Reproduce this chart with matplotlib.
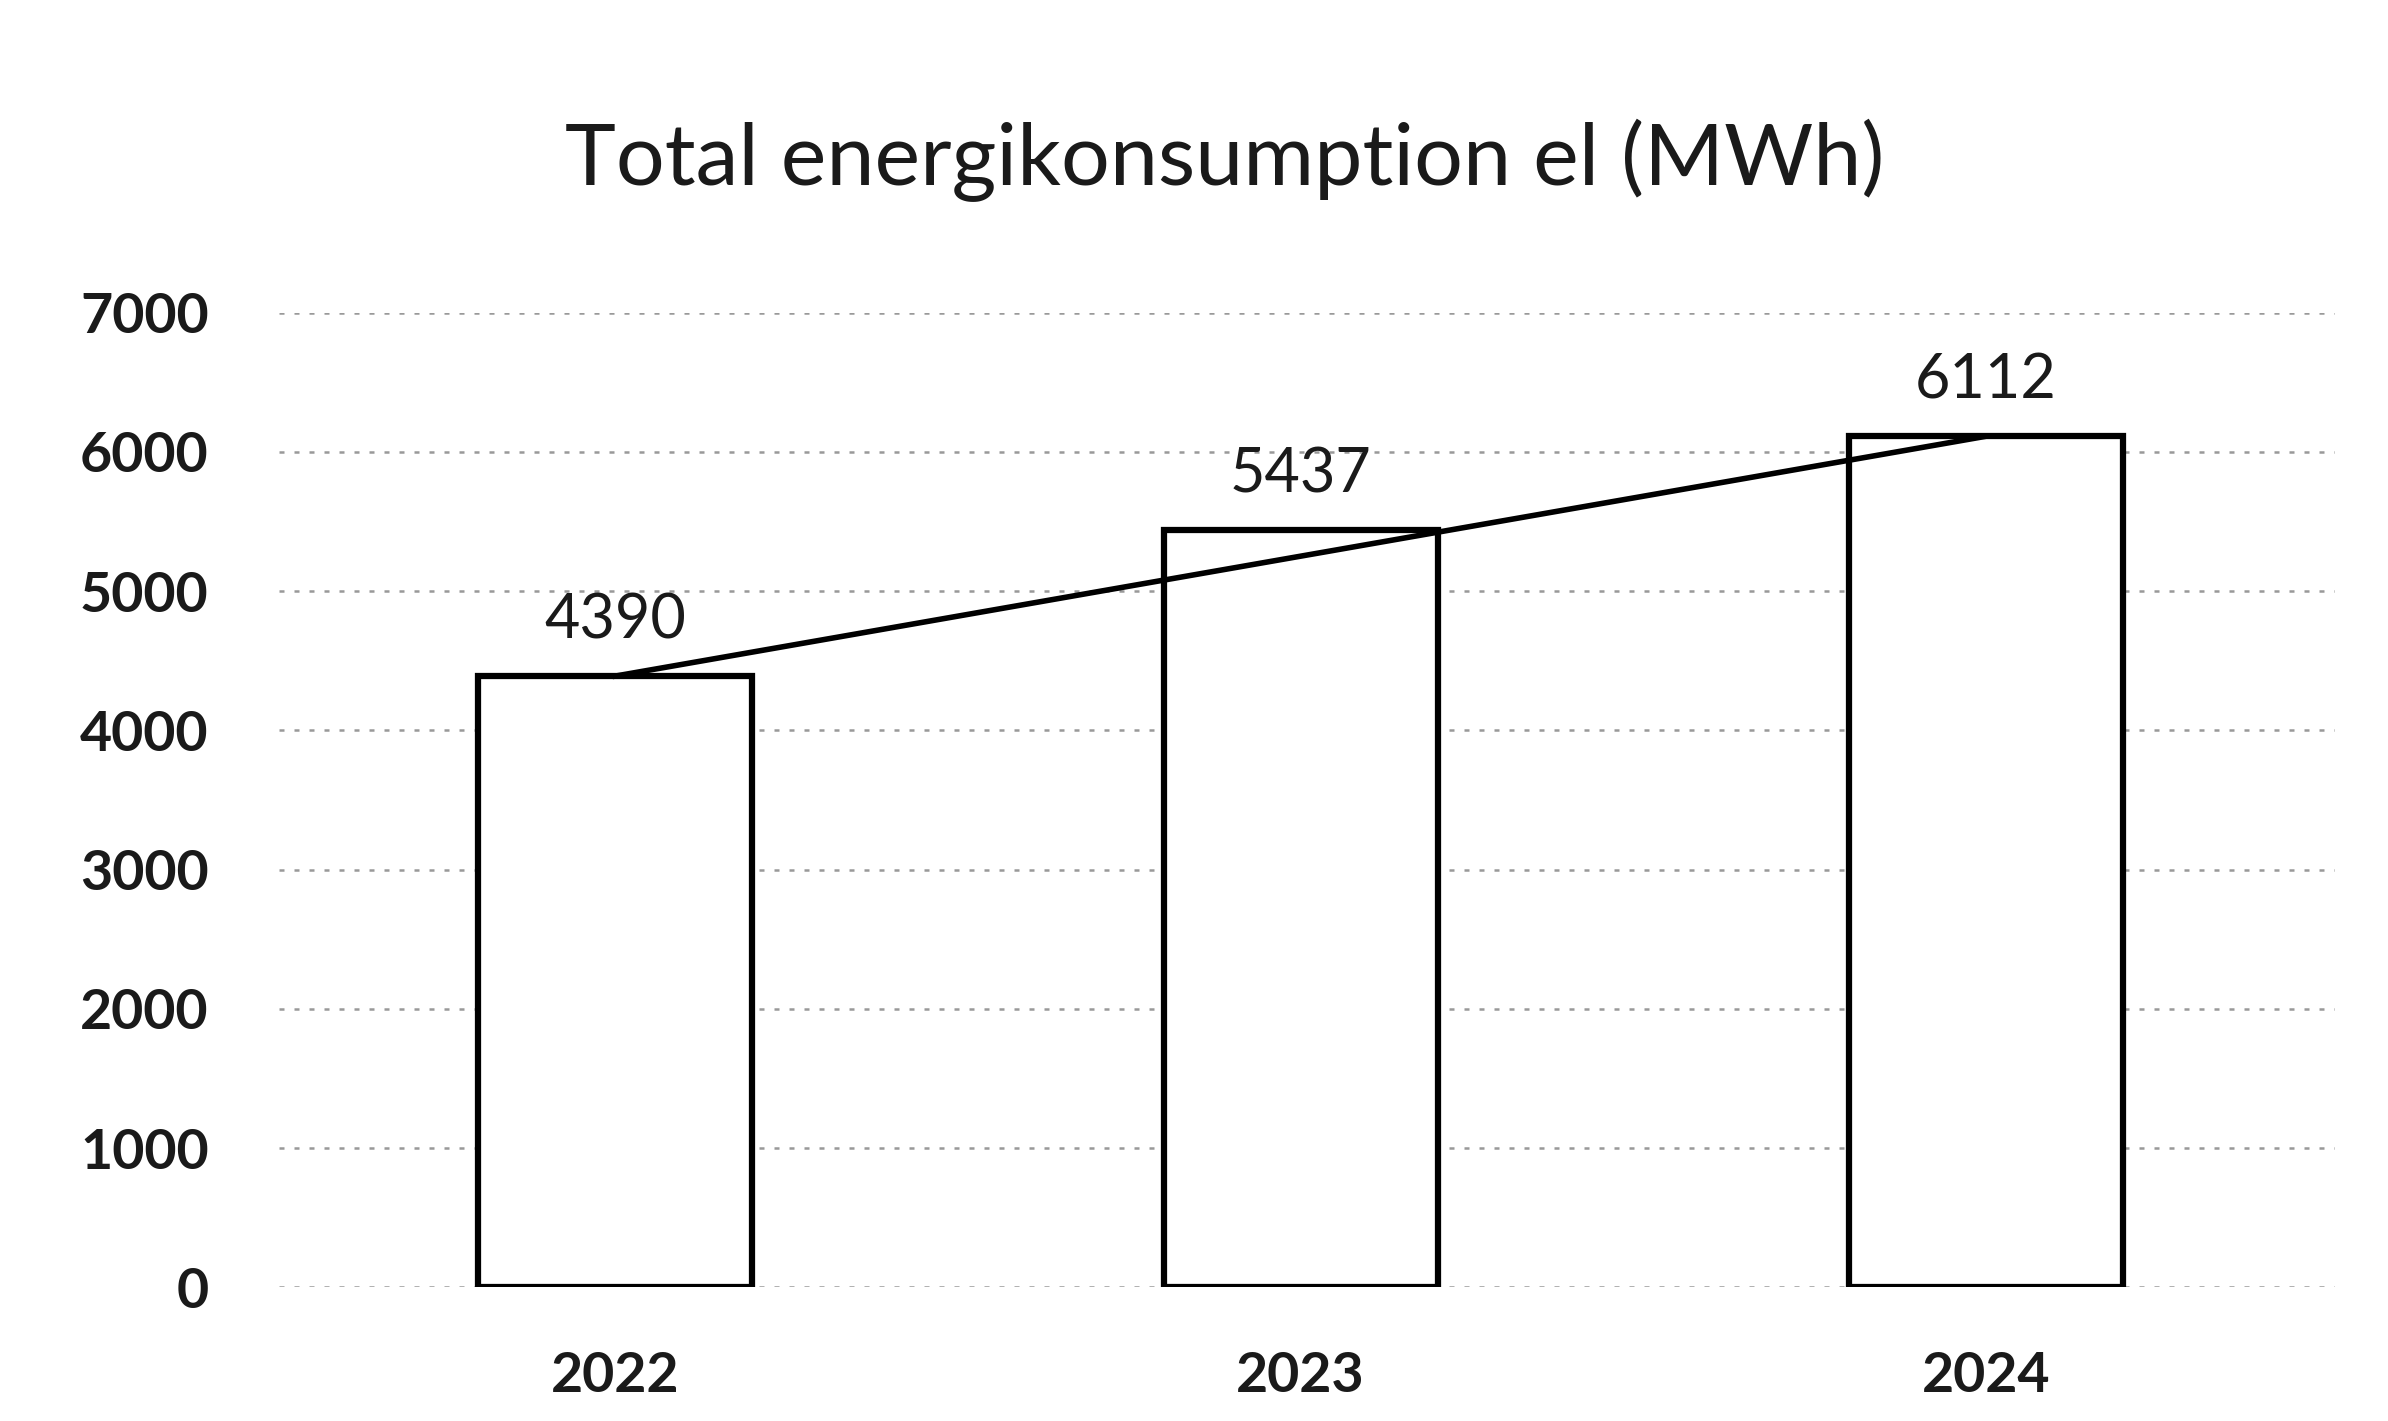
import matplotlib
matplotlib.use("Agg")
import matplotlib.pyplot as plt
import numpy as np

years = ["2022", "2023", "2024"]
consumption = [4390, 5437, 6112]
y_ticks = [0, 1000, 2000, 3000, 4000, 5000, 6000, 7000]
title = "Total energikonsumption el (MWh)"

plt.rcParams['font.family'] = ['Lato', 'DejaVu Sans']

fig = plt.figure(figsize=(23.88, 14.21), dpi=100)
ax = fig.add_axes([0.117, 0.094, 0.861, 0.686])

x = np.arange(len(years))
ax.bar(x, consumption, width=0.4, color="white", edgecolor="black", linewidth=4.5, zorder=2)

# straight connecting line from first to last value
ax.plot([x[0], x[-1]], [consumption[0], consumption[-1]], color="black", linewidth=4, zorder=3)

for xi, v in zip(x, consumption):
    ax.annotate(str(v), (xi, v), xytext=(0, 19), textcoords="offset points",
                ha="center", va="bottom", fontsize=44, color="#1a1a1a")

ax.set_xlim(-0.49, 2.51)
ax.set_ylim(0, 7000)
ax.set_yticks(y_ticks)
ax.set_xticks(x)
ax.set_xticklabels(years)
ax.tick_params(axis="both", length=0, labelsize=40, colors="#1a1a1a")
for lbl in ax.get_xticklabels() + ax.get_yticklabels():
    lbl.set_fontweight("bold")
ax.tick_params(axis="y", pad=51)
ax.tick_params(axis="x", pad=46)
ax.grid(axis="y", color="#999999", linestyle=(0, (2, 4)), linewidth=1.8, zorder=0)
ax.set_axisbelow(True)
for s in ax.spines.values():
    s.set_visible(False)

fig.text(0.513, 0.887, title, ha="center", va="center", fontsize=62, color="#1a1a1a")

fig.savefig("out.png", dpi=100, facecolor="white")
